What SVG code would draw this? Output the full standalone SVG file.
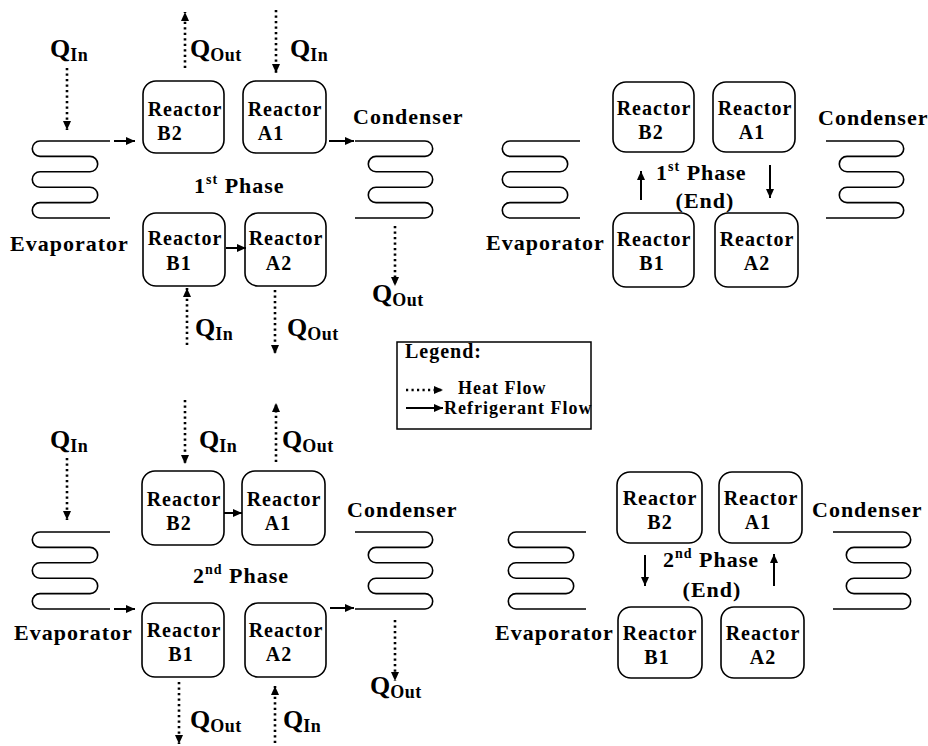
<svg xmlns="http://www.w3.org/2000/svg" xmlns:xlink="http://www.w3.org/1999/xlink" width="928" height="746" viewBox="0 0 928 746">
<style>
text{font-family:"Liberation Serif","Times New Roman",serif;font-weight:bold;fill:#000;letter-spacing:1px}
.r{font-size:20px;text-anchor:middle}
.lbl{font-size:22px}
.ph{font-size:22px}
.sup{font-size:14px}
.q{font-size:26px;letter-spacing:0}
.sub{font-size:18px;letter-spacing:0.5px}
.box{fill:#fff;stroke:#000;stroke-width:1.6}
.coil{fill:none;stroke:#000;stroke-width:1.6}
.heat{fill:none;stroke:#000;stroke-width:2.6;stroke-dasharray:2.2 3.3}
.ref{fill:none;stroke:#000;stroke-width:2}
.leg{font-size:18px}
</style>
<defs>
<marker id="ah" markerUnits="userSpaceOnUse" markerWidth="10" markerHeight="10" refX="9" refY="5" orient="auto">
<path d="M0,1 L9,5 L0,9 Z" fill="#000"/>
</marker>
<path id="evap" d="M78,0 H8 A7.7,7.7 0 0 0 8,15.4 H58 A7.7,7.7 0 0 1 58,30.8 H8 A7.7,7.7 0 0 0 8,46.2 H58 A7.7,7.7 0 0 1 58,61.6 H8 A7.7,7.7 0 0 0 8,77 H78"/>
<path id="cond" d="M0,0 H70 A7.7,7.7 0 0 1 70,15.4 H21 A7.7,7.7 0 0 0 21,30.8 H70 A7.7,7.7 0 0 1 70,46.2 H21 A7.7,7.7 0 0 0 21,61.6 H70 A7.7,7.7 0 0 1 70,77 H0"/>
</defs>

<!-- ===== Panel 1: 1st Phase ===== -->
<g id="p1-evaporator">
<use xlink:href="#evap" href="#evap" class="coil" transform="translate(32,141)"/>
<text class="lbl" x="10" y="251">Evaporator</text>
</g>
<g id="p1-condenser">
<use xlink:href="#cond" href="#cond" class="coil" transform="translate(355,141)"/>
<text class="lbl" x="353" y="124">Condenser</text>
</g>
<g id="p1-B2"><rect class="box" x="143" y="81" width="81" height="72" rx="13"/><text class="r" x="185" y="116">Reactor</text><text class="r" x="170" y="140">B2</text></g>
<g id="p1-A1"><rect class="box" x="243" y="81" width="83" height="72" rx="13"/><text class="r" x="285" y="116">Reactor</text><text class="r" x="271" y="140">A1</text></g>
<g id="p1-B1"><rect class="box" x="143" y="213" width="82" height="73" rx="13"/><text class="r" x="185" y="245">Reactor</text><text class="r" x="179" y="270">B1</text></g>
<g id="p1-A2"><rect class="box" x="245" y="213" width="81" height="73" rx="13"/><text class="r" x="286" y="245">Reactor</text><text class="r" x="279" y="270">A2</text></g>
<g id="p1-labels">
<text class="ph" x="194" y="193">1<tspan class="sup" dy="-9">st</tspan><tspan dy="9"> Phase</tspan></text>
<text class="q" x="50" y="57">Q<tspan class="sub" dy="4">In</tspan></text>
<text class="q" x="190" y="57">Q<tspan class="sub" dy="4">Out</tspan></text>
<text class="q" x="290" y="57">Q<tspan class="sub" dy="4">In</tspan></text>
<text class="q" x="195" y="336">Q<tspan class="sub" dy="4">In</tspan></text>
<text class="q" x="287" y="336">Q<tspan class="sub" dy="4">Out</tspan></text>
<text class="q" x="372" y="302">Q<tspan class="sub" dy="4">Out</tspan></text>
</g>

<!-- ===== Panel 2: 1st Phase (End) ===== -->
<g id="p2-evaporator">
<use xlink:href="#evap" href="#evap" class="coil" transform="translate(502,141)"/>
<text class="lbl" x="486" y="250">Evaporator</text>
</g>
<g id="p2-condenser">
<use xlink:href="#cond" href="#cond" class="coil" transform="translate(826,141)"/>
<text class="lbl" x="818" y="125">Condenser</text>
</g>
<g id="p2-B2"><rect class="box" x="613" y="82" width="81" height="70" rx="13"/><text class="r" x="654" y="115">Reactor</text><text class="r" x="651" y="139">B2</text></g>
<g id="p2-A1"><rect class="box" x="713" y="82" width="82" height="70" rx="13"/><text class="r" x="755" y="115">Reactor</text><text class="r" x="752" y="139">A1</text></g>
<g id="p2-B1"><rect class="box" x="613" y="213" width="81" height="74" rx="13"/><text class="r" x="654" y="246">Reactor</text><text class="r" x="652" y="270">B1</text></g>
<g id="p2-A2"><rect class="box" x="715" y="213" width="83" height="74" rx="13"/><text class="r" x="757" y="246">Reactor</text><text class="r" x="757" y="270">A2</text></g>
<g id="p2-labels">
<text class="ph" x="656" y="180">1<tspan class="sup" dy="-9">st</tspan><tspan dy="9"> Phase</tspan></text>
<text class="ph" x="705" y="208" text-anchor="middle">(End)</text>
</g>

<!-- ===== Panel 3: 2nd Phase ===== -->
<g id="p3-evaporator">
<use xlink:href="#evap" href="#evap" class="coil" transform="translate(32,532)"/>
<text class="lbl" x="14" y="640">Evaporator</text>
</g>
<g id="p3-condenser">
<use xlink:href="#cond" href="#cond" class="coil" transform="translate(355,532)"/>
<text class="lbl" x="347" y="517">Condenser</text>
</g>
<g id="p3-B2"><rect class="box" x="142" y="471" width="82" height="74" rx="13"/><text class="r" x="184" y="506">Reactor</text><text class="r" x="179" y="530">B2</text></g>
<g id="p3-A1"><rect class="box" x="242" y="471" width="83" height="74" rx="13"/><text class="r" x="284" y="506">Reactor</text><text class="r" x="278" y="530">A1</text></g>
<g id="p3-B1"><rect class="box" x="142" y="603" width="82" height="74" rx="13"/><text class="r" x="184" y="637">Reactor</text><text class="r" x="181" y="661">B1</text></g>
<g id="p3-A2"><rect class="box" x="245" y="603" width="81" height="74" rx="13"/><text class="r" x="286" y="637">Reactor</text><text class="r" x="279" y="661">A2</text></g>
<g id="p3-labels">
<text class="ph" x="193" y="583">2<tspan class="sup" dy="-9">nd</tspan><tspan dy="9"> Phase</tspan></text>
<text class="q" x="50" y="448">Q<tspan class="sub" dy="4">In</tspan></text>
<text class="q" x="199" y="448">Q<tspan class="sub" dy="4">In</tspan></text>
<text class="q" x="282" y="448">Q<tspan class="sub" dy="4">Out</tspan></text>
<text class="q" x="190" y="728">Q<tspan class="sub" dy="4">Out</tspan></text>
<text class="q" x="283" y="728">Q<tspan class="sub" dy="4">In</tspan></text>
<text class="q" x="370" y="694">Q<tspan class="sub" dy="4">Out</tspan></text>
</g>

<!-- ===== Panel 4: 2nd Phase (End) ===== -->
<g id="p4-evaporator">
<use xlink:href="#evap" href="#evap" class="coil" transform="translate(508,532)"/>
<text class="lbl" x="495" y="640">Evaporator</text>
</g>
<g id="p4-condenser">
<use xlink:href="#cond" href="#cond" class="coil" transform="translate(833,532)"/>
<text class="lbl" x="812" y="517">Condenser</text>
</g>
<g id="p4-B2"><rect class="box" x="617" y="472" width="85" height="71" rx="13"/><text class="r" x="660" y="505">Reactor</text><text class="r" x="660" y="529">B2</text></g>
<g id="p4-A1"><rect class="box" x="719" y="472" width="83" height="71" rx="13"/><text class="r" x="761" y="505">Reactor</text><text class="r" x="758" y="529">A1</text></g>
<g id="p4-B1"><rect class="box" x="618" y="607" width="84" height="71" rx="13"/><text class="r" x="660" y="640">Reactor</text><text class="r" x="657" y="664">B1</text></g>
<g id="p4-A2"><rect class="box" x="721" y="607" width="83" height="71" rx="13"/><text class="r" x="763" y="640">Reactor</text><text class="r" x="763" y="664">A2</text></g>
<g id="p4-labels">
<text class="ph" x="663" y="567">2<tspan class="sup" dy="-9">nd</tspan><tspan dy="9"> Phase</tspan></text>
<text class="ph" x="712" y="597" text-anchor="middle">(End)</text>
</g>

<!-- ===== Legend ===== -->
<g id="legend">
<rect x="397" y="342" width="194" height="87" fill="#fff" stroke="#000" stroke-width="1.5"/>
<text x="405" y="358" style="font-size:20px">Legend:</text>
<path class="heat" d="M406,390 H443" marker-end="url(#ah)"/>
<text class="leg" x="458" y="394">Heat Flow</text>
<path class="ref" d="M406,408 H443" marker-end="url(#ah)"/>
<text class="leg" x="444" y="414">Refrigerant Flow</text>
</g>

<!-- ===== Connectors ===== -->
<g id="connectors">
<!-- panel 1 -->
<path class="heat" d="M67,68 V130" marker-end="url(#ah)"/>
<path class="heat" d="M185,68 V12" marker-end="url(#ah)"/>
<path class="heat" d="M276,10 V73" marker-end="url(#ah)"/>
<path class="ref" d="M114,141 H135" marker-end="url(#ah)"/>
<path class="ref" d="M329,141 H354" marker-end="url(#ah)"/>
<path class="ref" d="M226,248 H246" marker-end="url(#ah)"/>
<path class="heat" d="M187,345 V288" marker-end="url(#ah)"/>
<path class="heat" d="M275,290 V354" marker-end="url(#ah)"/>
<path class="heat" d="M395,226 V286" marker-end="url(#ah)"/>
<!-- panel 2 -->
<path class="ref" d="M641,200 V171" marker-end="url(#ah)"/>
<path class="ref" d="M770,165 V198" marker-end="url(#ah)"/>
<!-- panel 3 -->
<path class="heat" d="M67,458 V520" marker-end="url(#ah)"/>
<path class="heat" d="M185,400 V464" marker-end="url(#ah)"/>
<path class="heat" d="M276,462 V403" marker-end="url(#ah)"/>
<path class="ref" d="M114,609 H135" marker-end="url(#ah)"/>
<path class="ref" d="M224,513 H242" marker-end="url(#ah)"/>
<path class="ref" d="M330,608 H354" marker-end="url(#ah)"/>
<path class="heat" d="M179,682 V744" marker-end="url(#ah)"/>
<path class="heat" d="M275,743 V686" marker-end="url(#ah)"/>
<path class="heat" d="M395,620 V681" marker-end="url(#ah)"/>
<!-- panel 4 -->
<path class="ref" d="M645,555 V586" marker-end="url(#ah)"/>
<path class="ref" d="M774,586 V554" marker-end="url(#ah)"/>
</g>
</svg>
